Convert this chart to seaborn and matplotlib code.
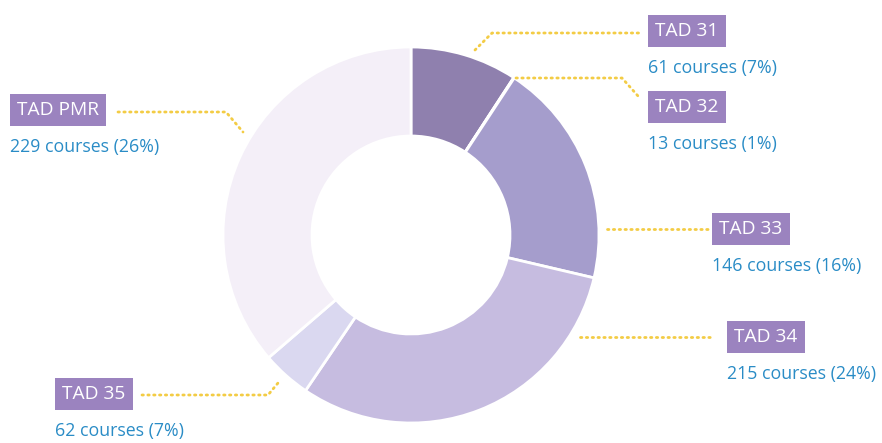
import matplotlib
matplotlib.use("Agg")
import matplotlib.pyplot as plt
import seaborn as sns

# data
tad_names = ["TAD 31", "TAD 32", "TAD 33", "TAD 34", "TAD 35", "TAD PMR"]
course_counts = [61, 13, 146, 215, 62, 229]
course_pcts = [7, 1, 16, 24, 7, 26]
# ring shares as drawn in the picture (in %)
ring_share = [9.2, 0.05, 19.4, 30.8, 4.2, 36.3]
ring_colors = ["#8f80ae", "#a59dcc", "#a59dcc", "#c6bce0", "#dad8f0", "#f4eff8"]

sns.set_theme(style="white")
plt.rcParams["font.family"] = ["Open Sans", "DejaVu Sans"]

W, H = 882, 443
fig = plt.figure(figsize=(W / 100, H / 100), dpi=100)
ax = fig.add_axes([0, 0, 1, 1])

def py(y):
    # pixel row (from top) -> data y
    return H - y

cx, cy, R, r = 411, 235, 188, 99
ax.pie(ring_share, colors=ring_colors, startangle=90, counterclock=False,
       center=(cx, py(cy)), radius=R,
       wedgeprops=dict(width=R - r, edgecolor="white", linewidth=2))
ax.set_xlim(0, W)
ax.set_ylim(0, H)
ax.set_aspect("equal")
ax.axis("off")

# label layout: (box left x, box center y, leader path)
layout = {
    "TAD 31": (655, 31, [(475, 50), (492, 33), (641, 33)]),
    "TAD 32": (655, 107, [(516, 78), (622, 78), (638, 96)]),
    "TAD 33": (719, 229, [(607, 229), (708, 229)]),
    "TAD 34": (734, 337, [(580, 337), (714, 337)]),
    "TAD 35": (62, 394, [(142, 395), (268, 395), (278, 383)]),
    "TAD PMR": (17, 110, [(118, 112), (226, 112), (243, 132)]),
}

for name, n, p in zip(tad_names, course_counts, course_pcts):
    bx, by, path = layout[name]
    xs = [q[0] for q in path]
    ys = [py(q[1]) for q in path]
    ax.plot(xs, ys, color="#f3cc45", linewidth=2.0, linestyle=(0, (0.5, 1.6)),
            dash_capstyle="round", solid_capstyle="round")
    ax.text(bx, py(by), name, ha="left", va="center", fontsize=13.8,
            color="white",
            bbox=dict(boxstyle="square,pad=0.38", facecolor="#9b83bf",
                      edgecolor="none"))
    ax.text(bx - 7, py(by + 37), f"{n} courses ({p}%)", ha="left",
            va="center", fontsize=12.8, color="#2a8cc6")

fig.savefig("out.png", dpi=100)
